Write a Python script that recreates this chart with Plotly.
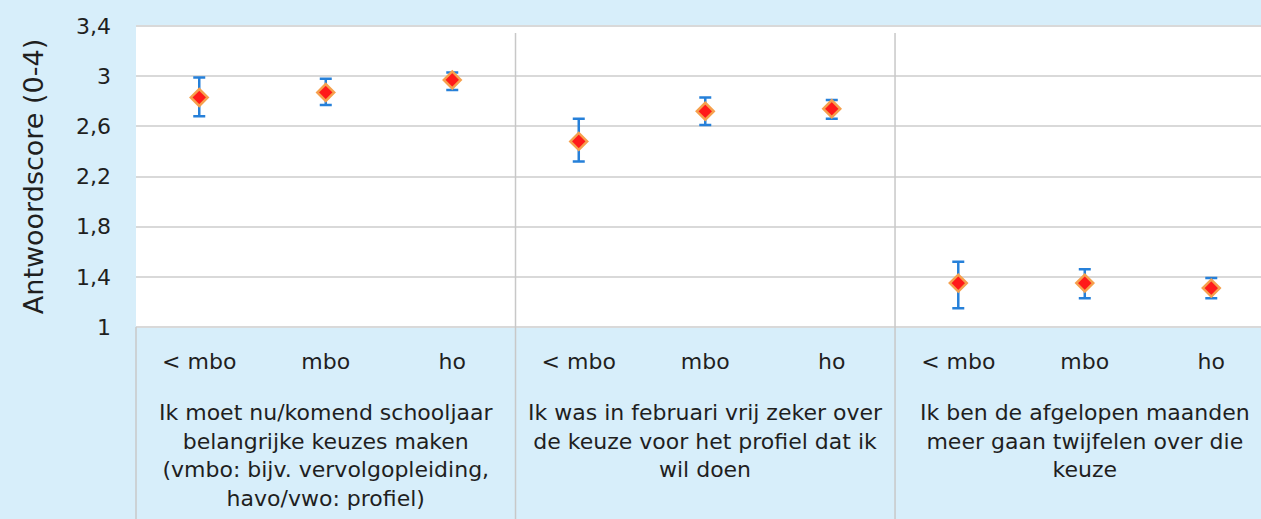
import plotly.graph_objects as go

# ---------------- data ----------------
group_labels = [
    ["Ik moet nu/komend schooljaar", "belangrijke keuzes maken",
     "(vmbo: bijv. vervolgopleiding,", "havo/vwo: profiel)"],
    ["Ik was in februari vrij zeker over", "de keuze voor het profiel dat ik",
     "wil doen"],
    ["Ik ben de afgelopen maanden", "meer gaan twijfelen over die",
     "keuze"],
]
levels = ["< mbo", "mbo", "ho"]

means = [2.83, 2.87, 2.97, 2.48, 2.72, 2.74, 1.35, 1.35, 1.31]
upper = [2.99, 2.98, 3.03, 2.66, 2.83, 2.81, 1.52, 1.46, 1.39]
lower = [2.68, 2.77, 2.89, 2.32, 2.61, 2.66, 1.15, 1.23, 1.23]

y_ticks = [1, 1.4, 1.8, 2.2, 2.6, 3, 3.4]
y_tick_text = ["1", "1,4", "1,8", "2,2", "2,6", "3", "3,4"]
y_title = "Antwoordscore (0-4)"

# ---------------- derived ----------------
n_groups = len(group_labels)
n_lv = len(levels)
xs = list(range(n_groups * n_lv))
tick_text = [lv.replace("<", "&lt;") for _ in group_labels for lv in levels]
err_plus = [u - m for u, m in zip(upper, means)]
err_minus = [m - l for m, l in zip(means, lower)]

X0, X1 = -0.5, 8.393
W, H = 1261, 519
ML, MR, MT, MB = 136, 0, 26, 192
plot_h = H - MT - MB


def px_to_paper_y(py):
    return (H - MB - py) / plot_h


def x_to_paper(x):
    return (x - X0) / (X1 - X0)


FONT = "DejaVu Sans"
TXT = "#1f1f1f"
BLUE_BG = "#D7EEFA"
GRID = "#D9D9D9"

fig = go.Figure()
fig.add_trace(go.Scatter(
    x=xs, y=means, mode="markers",
    marker=dict(symbol="diamond", size=13, color="#FF1A1A",
                line=dict(color="#F6A04D", width=2.5)),
    error_y=dict(type="data", symmetric=False, array=err_plus,
                 arrayminus=err_minus, color="#2680D9", thickness=2.5, width=6),
    showlegend=False, hoverinfo="skip",
))

shapes = []
# top and bottom edge gridlines (range ends)
for yp in (0, 1):
    shapes.append(dict(type="line", xref="paper", yref="paper",
                       x0=0, x1=1, y0=yp, y1=yp,
                       line=dict(color=GRID, width=2), layer="below"))
# separators between groups
for g in range(1, n_groups):
    xp = x_to_paper(g * n_lv - 0.5)
    shapes.append(dict(type="line", xref="paper", yref="paper",
                       x0=xp, x1=xp, y0=px_to_paper_y(33), y1=px_to_paper_y(H),
                       line=dict(color="#C8C8C8", width=1.5), layer="above"))
# left border of category area
shapes.append(dict(type="line", xref="paper", yref="paper",
                   x0=0, x1=0, y0=0, y1=px_to_paper_y(H),
                   line=dict(color="#C8C8C8", width=1.5)))

annotations = []
for g, lines in enumerate(group_labels):
    annotations.append(dict(
        x=g * n_lv + (n_lv - 1) / 2, xref="x",
        y=px_to_paper_y(398), yref="paper", yanchor="top", xanchor="center",
        text="<br>".join(lines), showarrow=False, align="center",
        font=dict(family=FONT, size=22, color=TXT),
    ))

fig.update_layout(
    width=W, height=H,
    margin=dict(l=ML, r=MR, t=MT, b=MB, pad=0),
    paper_bgcolor=BLUE_BG, plot_bgcolor="white",
    font=dict(family=FONT, size=22, color=TXT),
    shapes=shapes, annotations=annotations,
    xaxis=dict(range=[X0, X1], tickvals=xs, ticktext=tick_text,
               showgrid=False, zeroline=False, showline=False, ticks="",
               ticklabelstandoff=19, tickfont=dict(size=22, color=TXT)),
    yaxis=dict(range=[1, 3.4], tickvals=y_ticks, ticktext=y_tick_text,
               showgrid=True, gridcolor=GRID, gridwidth=2, zeroline=False,
               showline=False, ticks="", ticklabelstandoff=24,
               tickfont=dict(size=22, color=TXT),
               title=dict(text=y_title, font=dict(size=27, color=TXT),
                          standoff=24)),
)

fig.write_html("out.html",
               config={"displayModeBar": False},
               post_script="document.body.style.margin='0';"
                           "document.body.style.padding='0';")
